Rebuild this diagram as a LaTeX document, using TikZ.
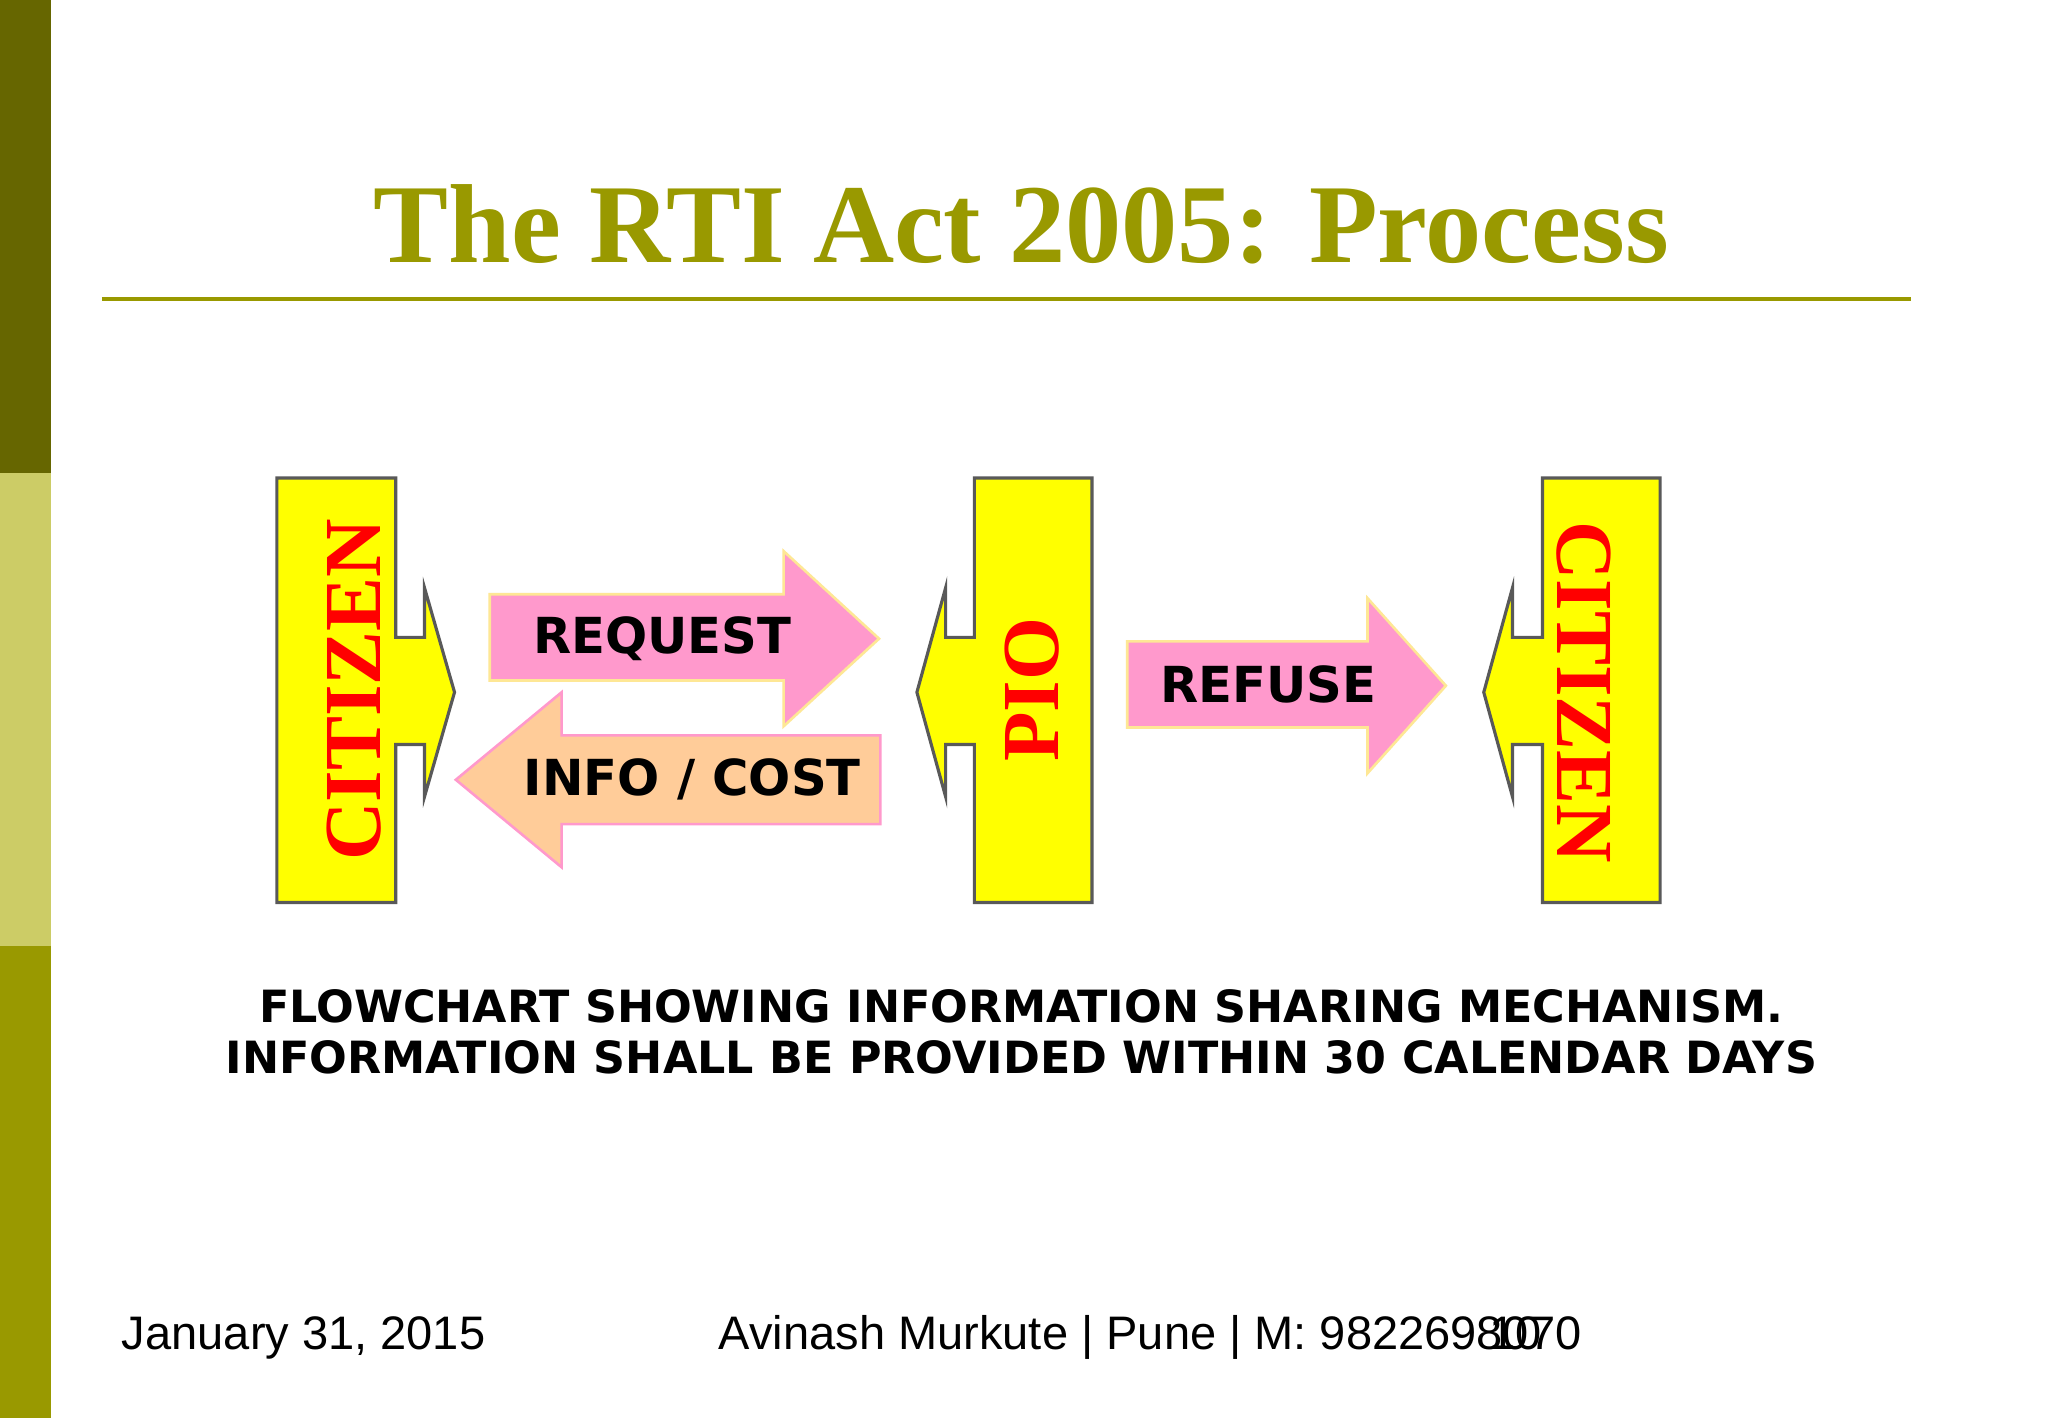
\documentclass[tikz,border=0pt]{standalone}
\usepackage{fontspec}
\setmainfont{Liberation Serif}
\newfontfamily\vfont{DejaVu Sans}
\newfontfamily\afont{Liberation Sans}
\definecolor{olive}{HTML}{999900}
\definecolor{darkol}{HTML}{666600}
\definecolor{lightol}{HTML}{CCCC66}
\definecolor{pinka}{HTML}{FF99CC}
\definecolor{peach}{HTML}{FFCC99}
\definecolor{ylw}{HTML}{FFFF00}
\begin{document}
\begin{tikzpicture}[x=0.5pt,y=-0.5pt,
  ybox/.style={fill=ylw,draw=gray!70!black,line width=1.2pt},
  redtxt/.style={text=red,font=\fontsize{31}{31}\selectfont\bfseries},
  arrtxt/.style={font=\vfont\bfseries\fontsize{19}{19}\selectfont},
  captxt/.style={font=\vfont\bfseries\fontsize{17}{19.5}\selectfont,align=center},
  foot/.style={font=\afont\fontsize{18}{18}\selectfont,inner sep=0pt}]
\useasboundingbox (0,0) rectangle (1568,1086);
\fill[white] (0,0) rectangle (1568,1086);
\fill[darkol] (0,0) rectangle (39,362);
\fill[lightol] (0,362) rectangle (39,724);
\fill[olive] (0,724) rectangle (39,1086);
\node[text=olive,font=\fontsize{43}{43}\selectfont\bfseries] (title) at (782,172) {The RTI Act 2005: Process};
\draw[olive,line width=1.5pt] (78,229) -- (1463,229);
% citizen left
\draw[ybox] (212,366) -- (303,366) -- (303,488) -- (325,488) -- (325,450) -- (348,530) -- (325,610) -- (325,570) -- (303,570) -- (303,691) -- (212,691) -- cycle;
\node[redtxt,rotate=90] (c1) at (271,528) {CITIZEN};
% PIO
\draw[ybox] (836,366) -- (746,366) -- (746,488) -- (724,488) -- (724,450) -- (702,530) -- (724,610) -- (724,570) -- (746,570) -- (746,691) -- (836,691) -- cycle;
\node[redtxt,rotate=90] (pio) at (790,528) {PIO};
% citizen right
\draw[ybox] (1271,366) -- (1181,366) -- (1181,488) -- (1158,488) -- (1158,450) -- (1136,530) -- (1158,610) -- (1158,570) -- (1181,570) -- (1181,691) -- (1271,691) -- cycle;
\node[redtxt,rotate=-90] (c2) at (1213,530) {CITIZEN};
% arrows
\draw[fill=pinka,draw=yellow!60!orange!40,line width=1pt] (375,455) -- (600,455) -- (600,422) -- (673,489) -- (600,556) -- (600,521) -- (375,521) -- cycle;
\node[arrtxt] (req) at (507,489) {REQUEST};
\draw[fill=peach,draw=pinka,line width=1pt] (674,563) -- (430,563) -- (430,530) -- (349,597) -- (430,664) -- (430,631) -- (674,631) -- cycle;
\node[arrtxt] (info) at (530,597) {INFO / COST};
\draw[fill=pinka,draw=yellow!60!orange!40,line width=1pt] (863,491) -- (1047,491) -- (1047,458) -- (1107,525) -- (1047,592) -- (1047,557) -- (863,557) -- cycle;
\node[arrtxt] (ref) at (971,524) {REFUSE};
\node[captxt] (caption) at (782,790) {FLOWCHART SHOWING INFORMATION SHARING MECHANISM.\\INFORMATION SHALL BE PROVIDED WITHIN 30 CALENDAR DAYS};
\node[foot,anchor=base west] (date) at (93,1033) {January 31, 2015};
\node[foot,anchor=base west] (auth) at (550,1033) {Avinash Murkute | Pune | M: 9822698070};
\node[foot,anchor=base west] (pg) at (1140,1033) {10};
\end{tikzpicture}
\end{document}
